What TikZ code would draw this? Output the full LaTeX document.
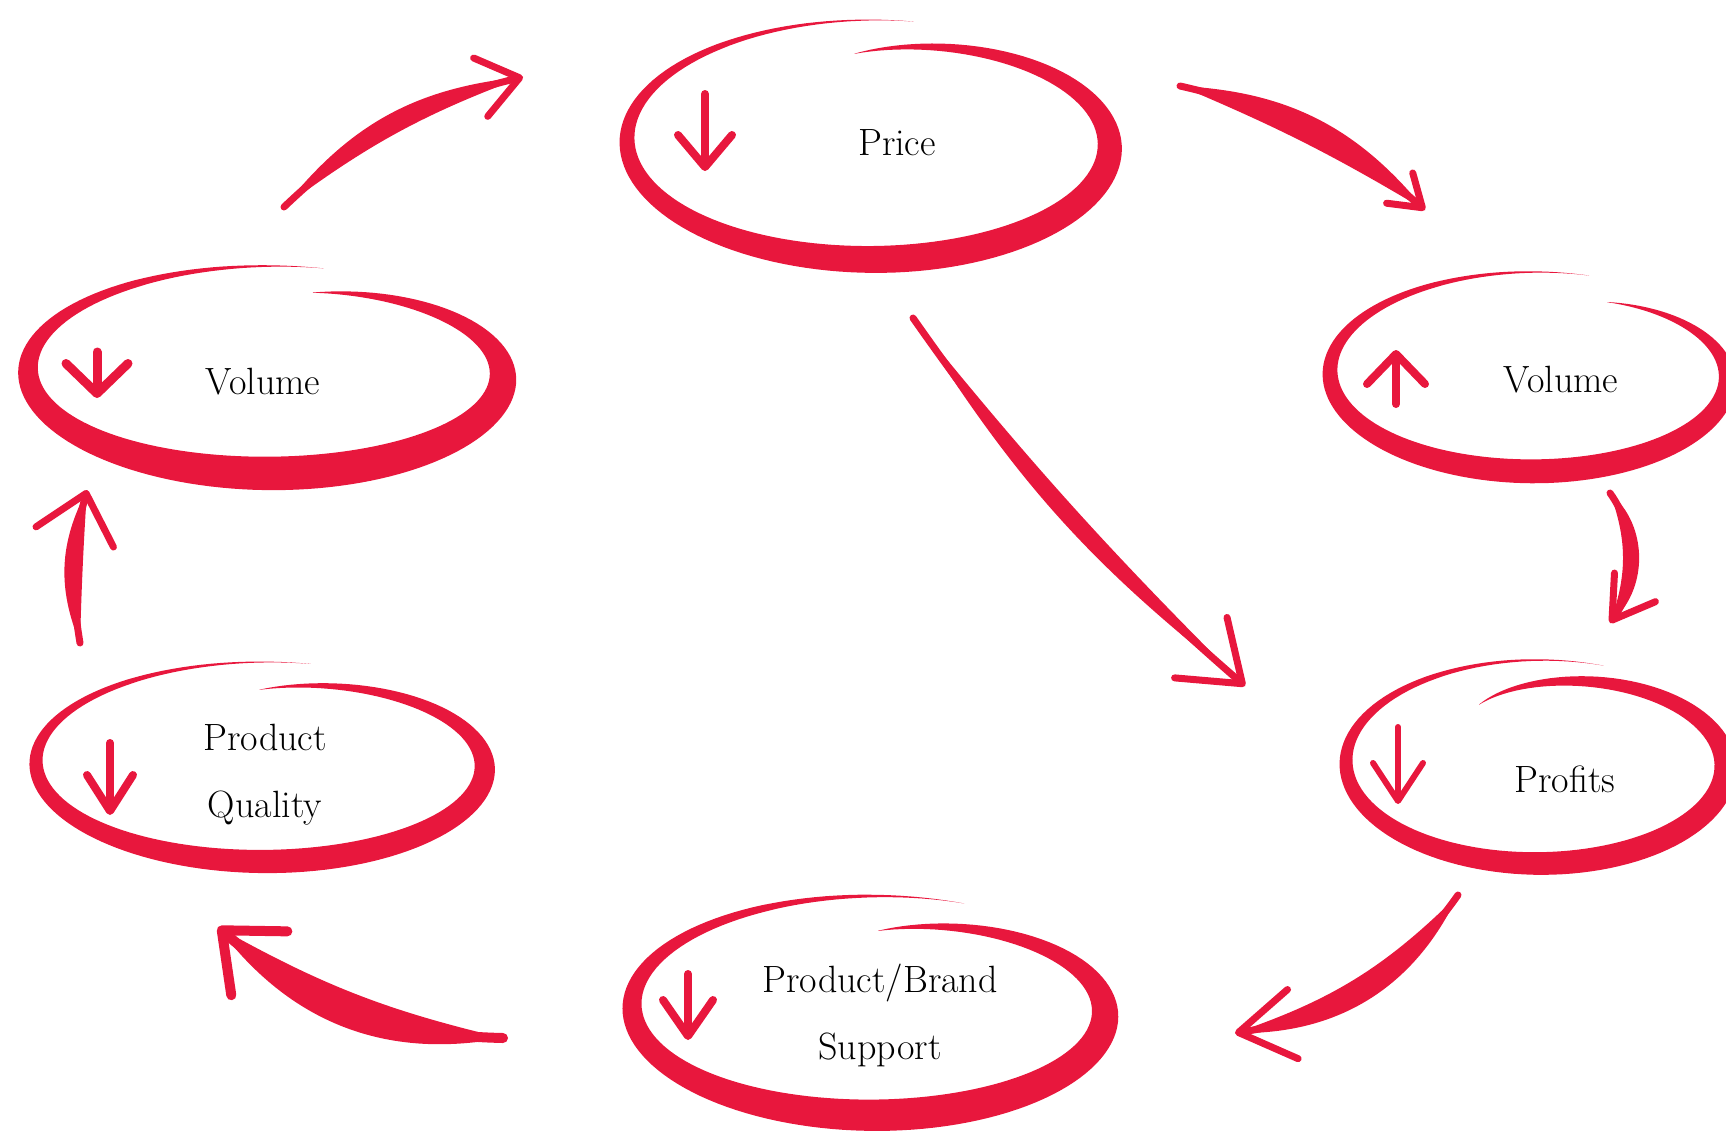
\documentclass[tikz,border=0pt]{standalone}
\usepackage{fontspec}
\usepackage{tikz}
\usetikzlibrary{arrows.meta,shapes.geometric}
\definecolor{inkred}{HTML}{E8173D}

% brush ring round a node: node, rx, ry, max width, start angle, end angle, end radius
\newcommand{\brushring}[7]{%
  \fill[inkred,shift={(#1.center)}]
    plot[domain=0.002:0.998,samples=150,variable=\t]
      ({(#2*(1-(1-#7)*\t^6)+#4/2*sin(180*\t^1.3))*cos(#5+(#6-#5)*\t)},
       {(#3*(1-(1-#7)*\t^6)+#4/2*sin(180*\t^1.3))*sin(#5+(#6-#5)*\t)})
    -- plot[domain=0.998:0.002,samples=150,variable=\t]
      ({(#2*(1-(1-#7)*\t^6)-#4/2*sin(180*\t^1.3))*cos(#5+(#6-#5)*\t)},
       {(#3*(1-(1-#7)*\t^6)-#4/2*sin(180*\t^1.3))*sin(#5+(#6-#5)*\t)})
    -- cycle;}
% brush connector: from, to, outer bend, inner bend, middle bend, tip options
\newcommand{\brushlink}[6]{%
  \fill[inkred] #1 to[bend left=#3] #2 to[bend right=#4] #1 -- cycle;
  \draw[barb,#6] #1 to[bend left=#5] #2;}

\tikzset{
  ring/.style={ellipse,inner sep=0pt,draw=none},
  captxt/.style={font=\fontsize{38}{67}\selectfont,align=center,text=black},
  dirarrow/.style={draw=inkred,line width=8pt,line cap=round,
    -{Straight Barb[round,length=32pt,width=54pt]}},
  barb/.style={draw=inkred,line width=7pt,line cap=round,
    -{Straight Barb[round,length=40pt,width=60pt]}},
}

\begin{document}
\begin{tikzpicture}[x=1pt,y=-1pt]
  \useasboundingbox (0,0) rectangle (1726,1132);

  % rings
  \node[ring,minimum width=494pt,minimum height=240pt] (price) at (874,140) {};
  \node[ring,minimum width=488pt,minimum height=208pt] (volL) at (272,370) {};
  \node[ring,minimum width=410pt,minimum height=200pt] (volR) at (1535,372) {};
  \node[ring,minimum width=388pt,minimum height=204pt] (profits) at (1540,762) {};
  \node[ring,minimum width=460pt,minimum height=200pt] (quality) at (266,762) {};
  \node[ring,minimum width=488pt,minimum height=220pt] (support) at (876,1006) {};

  \brushring{price}{247}{120}{28}{280}{-97}{0.72}
  \brushring{volL}{244}{104}{34}{283}{-78}{0.76}
  \brushring{volR}{205}{100}{24}{286}{-64}{0.78}
  \brushring{profits}{194}{102}{24}{290}{-120}{0.64}
  \brushring{quality}{230}{100}{24}{282}{-93}{0.72}
  \brushring{support}{244}{110}{32}{292}{-90}{0.68}

  % texts
  \node[captxt] (priceT) at (897,143) {Price};
  \node[captxt] (volLT) at (263,382) {Volume};
  \node[captxt] (volRT) at (1561,380) {Volume};
  \node[captxt] (profitsT) at (1565,779) {Profits};
  \node[captxt] (qualityT) at (265,775) {Product\\Quality};
  \node[captxt] (supportT) at (880,1015) {Product/Brand\\Support};

  % up and down marks
  \draw[dirarrow] ([shift={(-169,-46)}]price.center) -- ++(0,77);
  \draw[dirarrow,-{Straight Barb[round,length=30pt,width=62pt]},line width=9pt]
    ([shift={(-175,-18)}]volL.center) -- ++(0,46);
  \draw[dirarrow,-{Straight Barb[round,length=30pt,width=58pt]}]
    ([shift={(-139,32)}]volR.center) -- ++(0,-54);
  \draw[dirarrow,line width=6pt,-{Straight Barb[round,length=38pt,width=50pt]}]
    ([shift={(-142,-35)}]profits.center) -- ++(0,77);
  \draw[dirarrow,-{Straight Barb[round,length=36pt,width=46pt]}]
    ([shift={(-156,-19)}]quality.center) -- ++(0,72);
  \draw[dirarrow,-{Straight Barb[round,length=36pt,width=50pt]}]
    ([shift={(-188,-32)}]support.center) -- ++(0,66);

  % links
  \brushlink{([shift={(306,-54)}]price.center)}{([shift={(-110,-162)}]volR.center)}
    {24}{4}{14}{-{Straight Barb[round,length=30pt,width=40pt]}}
  \brushlink{([shift={(39,178)}]price.center)}{([shift={(-295,-76)}]profits.center)}
    {-10}{-3}{-7}{-{Straight Barb[round,length=55pt,width=80pt]}}
  \brushlink{([shift={(75,121)}]volR.center)}{([shift={(70,-139)}]profits.center)}
    {50}{20}{35}{-{Straight Barb[round,length=40pt,width=50pt]}}
  \brushlink{([shift={(-82,133)}]profits.center)}{([shift={(359,27)}]support.center)}
    {33}{13}{23}{-{Straight Barb[round,length=55pt,width=70pt]}}
  \brushlink{([shift={(-373,32)}]support.center)}{([shift={(-48,165)}]quality.center)}
    {32}{8}{20}{-{Straight Barb[round,length=50pt,width=85pt]},line width=10pt}
  \brushlink{([shift={(-186,-119)}]quality.center)}{([shift={(-185,120)}]volL.center)}
    {25}{1}{12}{-{Straight Barb[round,length=45pt,width=80pt]}}
  \brushlink{([shift={(12,-163)}]volL.center)}{([shift={(-351,-63)}]price.center)}
    {23}{8}{15}{-{Straight Barb[round,length=40pt,width=60pt]}}
\end{tikzpicture}
\end{document}
